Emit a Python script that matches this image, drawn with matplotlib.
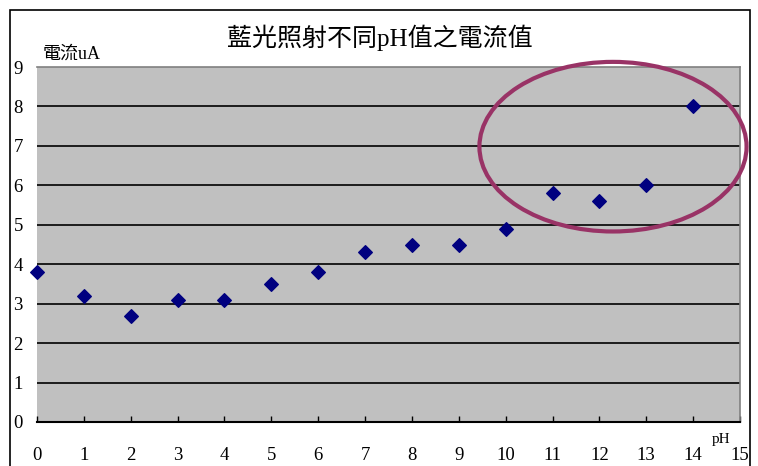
import matplotlib.pyplot as plt
from matplotlib.patches import Ellipse, Rectangle

plt.rcParams['font.family'] = ['Liberation Serif', 'Noto Sans CJK TC']

ph = [0, 1, 2, 3, 4, 5, 6, 7, 8, 9, 10, 11, 12, 13, 14]
current = [3.8, 3.2, 2.7, 3.1, 3.1, 3.5, 3.8, 4.3, 4.5, 4.5, 4.9, 5.8, 5.6, 6.0, 8.0]
x_ticks = list(range(0, 16))
y_ticks = list(range(0, 10))

fig = plt.figure(figsize=(7.58, 4.66), dpi=100)
fig.patch.set_facecolor("white")

# outer chart frame
fig.add_artist(Rectangle((10 / 758, -0.05), 740 / 758, 1 - 10 / 466 + 0.05,
                         transform=fig.transFigure, fill=False,
                         ec="black", lw=1.2))

ax = fig.add_axes([37 / 758, 1 - 422 / 466, 703 / 758, 355 / 466])
ax.set_facecolor("#C0C0C0")
ax.set_xlim(0, 15)
ax.set_ylim(0, 9)

for y in y_ticks[1:-1]:
    ax.axhline(y, color="black", lw=1.2, zorder=1)

ax.scatter(ph, current, marker="D", s=48, color="#000080", zorder=3, clip_on=False)

# highlight circle around the high-pH points
ax.add_patch(Ellipse((12.29, 6.98), 5.7, 4.3, fill=False, ec="#993366",
                     lw=3, zorder=4, clip_on=False))

ax.set_xticks(x_ticks)
ax.set_yticks(y_ticks)
ax.tick_params(axis="x", direction="in", length=4, width=1, pad=18, labelsize=13.5)
ax.tick_params(axis="y", length=0, pad=17, labelsize=13.5)
for lbl in ax.get_yticklabels():
    lbl.set_horizontalalignment("left")

for s in ["top", "right", "left"]:
    ax.spines[s].set_color("#808080")
    ax.spines[s].set_linewidth(1.2)
ax.spines["left"].set_visible(False)
ax.spines["bottom"].set_color("black")
ax.spines["bottom"].set_linewidth(1.5)

fig.text(380 / 758, 1 - 38 / 466, "藍光照射不同pH值之電流值", ha="center", va="center",
         fontsize=18, fontweight="light")
fig.text(43 / 758, 1 - 54 / 466, "電流uA", ha="left", va="center", fontsize=13,
         fontweight="light")
fig.text(712 / 758, 1 - 440 / 466, "pH", ha="left", va="center", fontsize=11)

fig.savefig("out.png", dpi=100)
